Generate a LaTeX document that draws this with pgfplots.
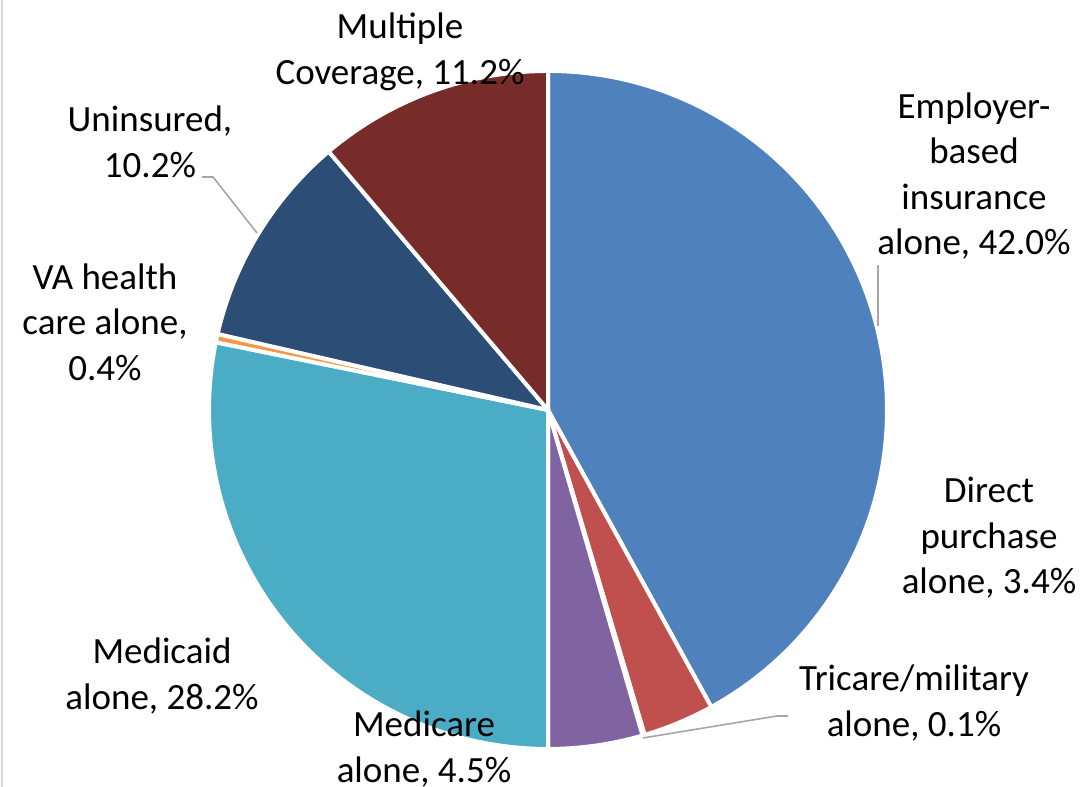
\documentclass[border=0pt]{standalone}
\usepackage{pgfplots}
\pgfplotsset{compat=1.18}
\usepackage{fontspec}
\setmainfont{Carlito}

% slice colours, clockwise from 12 o'clock
\definecolor{c0}{HTML}{4F81BD}
\definecolor{c1}{HTML}{C0504D}
\definecolor{c2}{HTML}{9BBB59}
\definecolor{c3}{HTML}{8064A2}
\definecolor{c4}{HTML}{4BACC6}
\definecolor{c5}{HTML}{F79646}
\definecolor{c6}{HTML}{2C4D75}
\definecolor{c7}{HTML}{772C2A}
\definecolor{leader}{HTML}{A6A6A6}

\begin{document}
\begin{tikzpicture}[
    lbl/.style={align=center, inner sep=0pt,
      font=\fontsize{9.25}{11.4}\selectfont},
  ]
% shares in percent: Employer, Direct, Tricare, Medicare, Medicaid, VA, Uninsured, Multiple
\gdef\cum{0}
\foreach \v [count=\i from 0] in {42.0,3.4,0.1,4.5,28.2,0.4,10.2,11.2} {
  \pgfmathsetmacro\sa{90-3.6*\cum}
  \pgfmathsetmacro\newcum{\cum+\v}
  \pgfmathsetmacro\ea{90-3.6*\newcum}
  \expandafter\xdef\csname sa\i\endcsname{\sa}
  \expandafter\xdef\csname ea\i\endcsname{\ea}
  \xdef\cum{\newcum}
}
\begin{axis}[
    scale only axis,
    width=271pt, height=196.75pt,
    xmin=0, xmax=1084, ymin=-787, ymax=0,
    hide axis, clip=false,
  ]
\coordinate (ll) at (axis cs:0,-787);
\coordinate (ur) at (axis cs:1084,0);
\draw[gray!30, line width=0.5pt] (axis cs:2,0) -- (axis cs:2,-787);

\pgfplotsinvokeforeach{0,...,7}{
  \fill[c#1, draw=white, line width=1pt, line join=round]
    (axis cs:548,-410) -- ++(\csname sa#1\endcsname:84.75pt)
    arc[start angle=\csname sa#1\endcsname, end angle=\csname ea#1\endcsname, radius=84.75pt]
    -- cycle;
}

% leader lines
\draw[leader, line width=0.4pt] (axis cs:202,-177) -- (axis cs:213,-177) -- (axis cs:257,-233);
\draw[leader, line width=0.4pt] (axis cs:788,-716) -- (axis cs:777,-716) -- (axis cs:643,-738);
\draw[leader, line width=0.4pt] (axis cs:878,-265) -- (axis cs:878,-326);

% data labels
\node[lbl] at (axis cs:974,-176) {Employer-\\based\\insurance\\alone, 42.0\%};
\node[lbl] at (axis cs:989,-538) {Direct\\purchase\\alone, 3.4\%};
\node[lbl] at (axis cs:914,-703) {Tricare/military\\alone, 0.1\%};
\node[lbl] at (axis cs:424,-749) {Medicare\\alone, 4.5\%};
\node[lbl] at (axis cs:162,-676) {Medicaid\\alone, 28.2\%};
\node[lbl] at (axis cs:105,-322) {VA health\\care alone,\\0.4\%};
\node[lbl] at (axis cs:150,-142) {Uninsured,\\10.2\%};
\node[lbl] at (axis cs:400,-52) {Multiple\\Coverage, 11.2\%};
\end{axis}
\pgfresetboundingbox
\path[use as bounding box] (ll) rectangle (ur);
\end{tikzpicture}
\end{document}
